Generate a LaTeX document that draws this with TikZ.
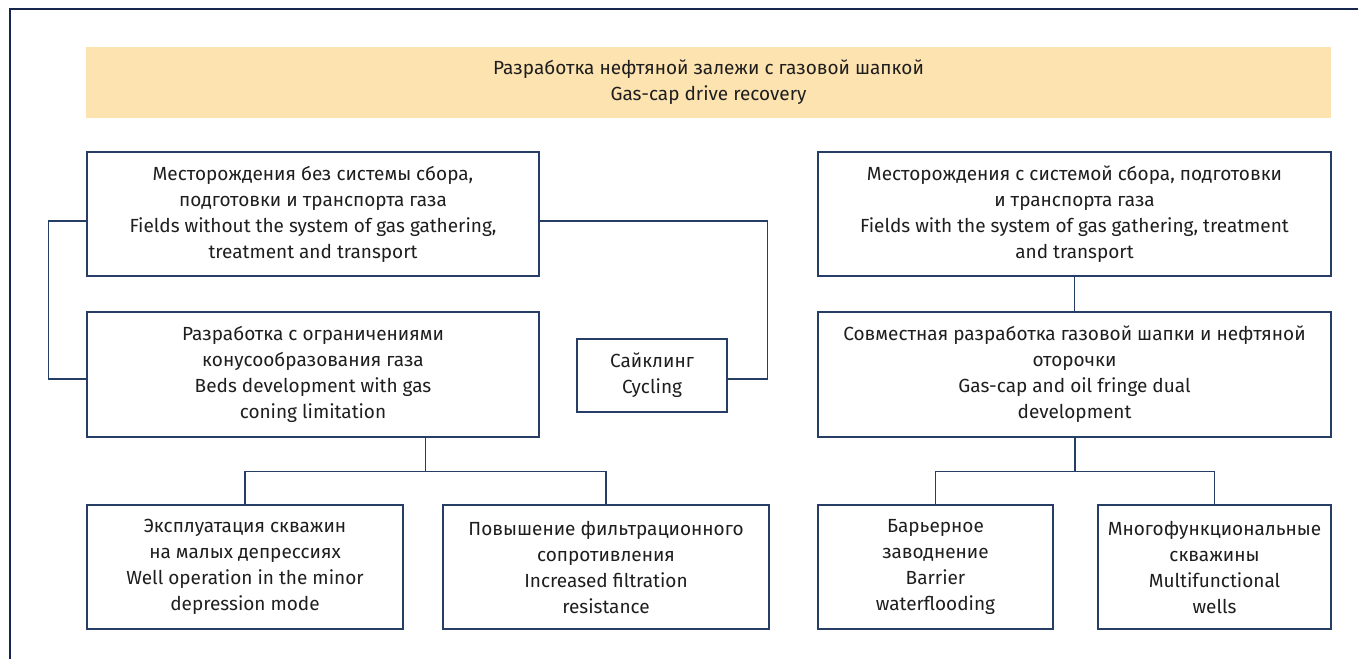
\documentclass[tikz,border=0pt]{standalone}
\usepackage{fontspec}
\setmainfont{Fira Sans}
\usetikzlibrary{calc}
\definecolor{framecol}{RGB}{22,38,78}
\definecolor{linecol}{RGB}{38,62,102}
\definecolor{bannercol}{RGB}{253,227,176}
\definecolor{textcol}{RGB}{30,30,30}

\begin{document}
\begin{tikzpicture}[x=0.5pt, y=-0.5pt,
  box/.style={draw=linecol, line width=0.65pt, align=center, inner sep=0pt,
    text=textcol, font=\fontsize{9.5}{13}\selectfont},
  link/.style={draw=linecol, line width=0.65pt}]
\useasboundingbox (0,0) rectangle (1358,659);
\draw[framecol, line width=1pt] (10,659) -- (10,9) -- (1358,9);
% banner
\node[box, draw=none, fill=bannercol, minimum width=622.5pt, minimum height=35.5pt] (title) at (708.5,82.5)
  {Разработка нефтяной залежи с газовой шапкой\\Gas-cap drive recovery};
% left branch
\node[box, minimum width=226pt, minimum height=62pt] (nosys) at (313,214)
  {Месторождения без системы сбора,\\подготовки и транспорта газа\\Fields without the system of gas gathering,\\treatment and transport};
\node[box, minimum width=226pt, minimum height=62.5pt] (dev) at (313,374.5)
  {Разработка с ограничениями\\конусообразования газа\\Beds development with gas\\coning limitation};
\node[box, minimum width=75pt, minimum height=36.5pt] (cyc) at (652,375.5)
  {Сайклинг\\Cycling};
\node[box, minimum width=158pt, minimum height=62pt] (expl) at (245,567)
  {Эксплуатация скважин\\на малых депрессиях\\Well operation in the minor\\depression mode};
\node[box, minimum width=163pt, minimum height=62pt] (filt) at (606,567)
  {Повышение фильтрационного\\сопротивления\\Increased filtration\\resistance};
% right branch
\node[box, minimum width=256.5pt, minimum height=62pt] (withsys) at (1074.5,214)
  {Месторождения с системой сбора, подготовки\\и транспорта газа\\Fields with the system of gas gathering, treatment\\and transport};
\node[box, minimum width=256.5pt, minimum height=62.5pt] (dual) at (1074.5,374.5)
  {Совместная разработка газовой шапки и нефтяной\\оторочки\\Gas-cap and oil fringe dual\\development};
\node[box, minimum width=117.5pt, minimum height=62pt] (barr) at (935.5,567)
  {Барьерное\\заводнение\\Barrier\\waterflooding};
\node[box, minimum width=116.5pt, minimum height=62pt] (multi) at (1214.5,567)
  {Многофункциональные\\скважины\\Multifunctional\\wells};
% connectors
\draw[link] ([yshift=-3.5pt]nosys.west) -- ++(-38,0) |- ([yshift=-2.25pt]dev.west);
\draw[link] ([yshift=-3.5pt]nosys.east) -- ++(228,0) |- ([yshift=-1.75pt]cyc.east);
\draw[link] (withsys.south) -- (dual.north);
\foreach \p/\a/\b in {dev/expl/filt, dual/barr/multi} {
 \draw[link] (\a.north) -- ++(0,-33) -| (\b.north);
 \coordinate (m\p) at ($(\a.north)!.5!(\b.north)+(0,-33)$);
 \draw[link] (m\p) -- (m\p |- \p.south);
}
\end{tikzpicture}
\end{document}
